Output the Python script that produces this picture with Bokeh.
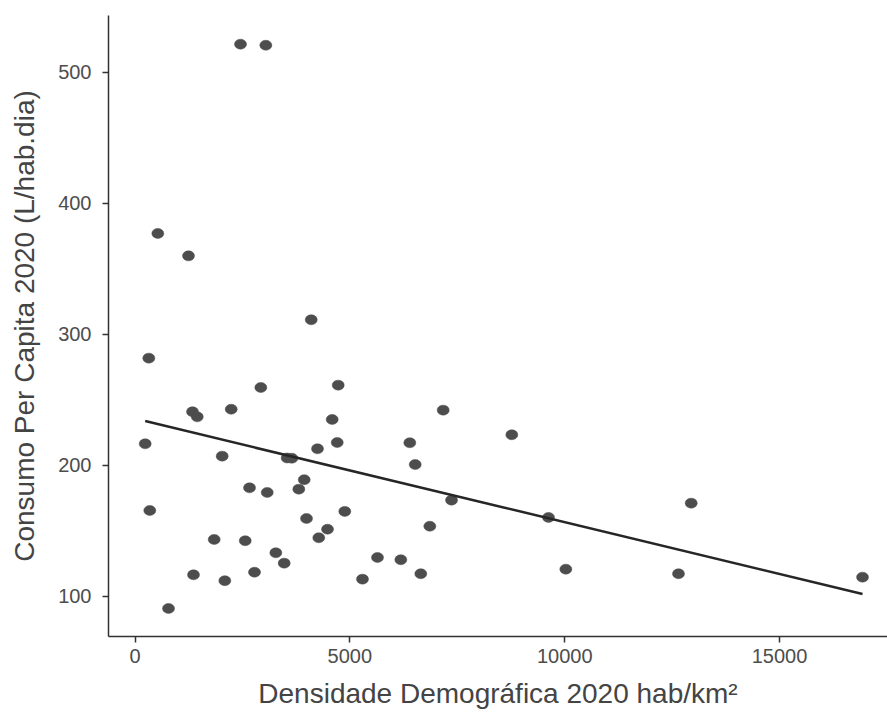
import numpy as np
from bokeh.plotting import figure
from bokeh.models import FixedTicker, Range1d, ColumnDataSource
from bokeh.embed import file_html
from bokeh.resources import INLINE

# Densidade demográfica 2020 (hab/km²)
densidade = [2455, 3044, 531, 1245, 4101, 321, 2928, 4729, 1338, 1448,
             2239, 7172, 4589, 237, 4706, 6395, 4247, 2029, 3540, 3650,
             6521, 3938, 2665, 3812, 3077, 7366, 344, 4882, 3991, 6861,
             4480, 4277, 1843, 2565, 3277, 3472, 5643, 6186, 1361, 2090,
             2781, 5294, 6651, 780, 8769, 9623, 10026, 12944, 12648, 16931]
# Consumo per capita 2020 (L/hab.dia)
consumo = [521.4, 520.6, 376.9, 359.8, 311.0, 281.7, 259.3, 261.1, 240.8, 236.9,
           242.7, 242.0, 234.9, 216.3, 217.3, 217.1, 212.5, 206.9, 205.5, 205.3,
           200.5, 188.9, 182.7, 181.7, 179.2, 173.3, 165.4, 164.7, 159.3, 153.4,
           151.1, 144.6, 143.3, 142.3, 133.1, 125.2, 129.5, 127.8, 116.3, 111.8,
           118.3, 113.0, 117.1, 90.6, 223.2, 160.1, 120.6, 171.0, 117.1, 114.5]

x_ticks = [0, 5000, 10000, 15000]
x_tick_labels = ["0", "5000", "10000", "15000"]
y_ticks = [100, 200, 300, 400, 500]
y_tick_labels = ["100", "200", "300", "400", "500"]

x_title = "Densidade Demográfica 2020 hab/km²"
y_title = "Consumo Per Capita 2020 (L/hab.dia)"

FONT = "Liberation Sans"

p = figure(width=887, height=713, output_backend="svg", toolbar_location=None,
           min_border_left=108, min_border_right=0, min_border_top=15,
           min_border_bottom=77,
           x_range=Range1d(-617, 17512), y_range=Range1d(69.2, 543.3))
p.outline_line_color = None
p.xgrid.visible = False
p.ygrid.visible = False
p.background_fill_color = "white"
p.border_fill_color = "white"

src = ColumnDataSource(dict(x=densidade, y=consumo))
p.ellipse(x="x", y="y", width=12, height=10, width_units="screen",
          height_units="screen", source=src, fill_color="#4d4d4d",
          line_color="#4d4d4d", line_width=0.5)

# linear regression line (lm fit) over the data range
xa = np.array(densidade, dtype=float)
ya = np.array(consumo, dtype=float)
slope, intercept = np.polyfit(xa, ya, 1)
lx = [xa.min(), xa.max()]
ly = [intercept + slope * v for v in lx]
p.line(lx, ly, line_color="#262626", line_width=2.6)

for ax, ticks, labels in ((p.xaxis[0], x_ticks, x_tick_labels),
                          (p.yaxis[0], y_ticks, y_tick_labels)):
    ax.ticker = FixedTicker(ticks=ticks)
    ax.major_label_overrides = {t: l for t, l in zip(ticks, labels)}
    ax.axis_line_color = "#333333"
    ax.axis_line_width = 1.5
    ax.major_tick_line_color = "#333333"
    ax.major_tick_line_width = 1.5
    ax.major_tick_out = 6
    ax.major_tick_in = 0
    ax.minor_tick_line_color = None
    ax.major_label_text_font = FONT
    ax.major_label_text_font_size = "20px"
    ax.major_label_text_color = "#4d4d4d"
    ax.axis_label_text_font = FONT
    ax.axis_label_text_font_size = "28px"
    ax.axis_label_text_font_style = "normal"
    ax.axis_label_text_color = "#444444"

p.xaxis.axis_label = x_title
p.yaxis.axis_label = y_title
p.xaxis.major_label_standoff = 6
p.xaxis.axis_label_standoff = 12
p.yaxis.major_label_standoff = 11
p.yaxis.axis_label_standoff = 15

open("out.html", "w").write(file_html(p, INLINE))
